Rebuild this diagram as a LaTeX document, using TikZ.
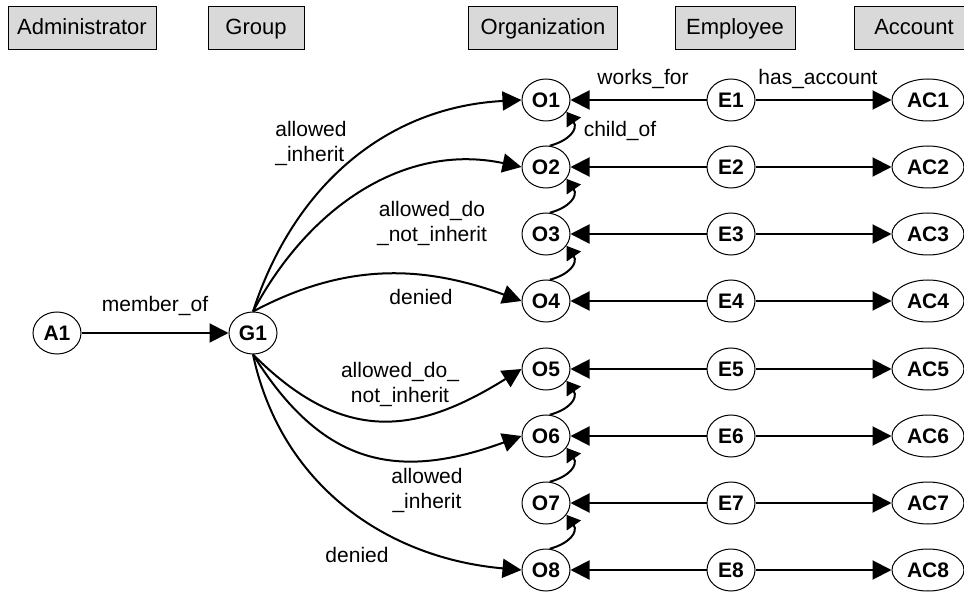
\documentclass[tikz,border=0pt]{standalone}
\usepackage{fontspec}
\setmainfont{Liberation Sans}
\usetikzlibrary{shapes.geometric,arrows.meta}
\definecolor{hdrgray}{HTML}{D9D9D9}
\begin{document}
\begin{tikzpicture}[x=0.5pt,y=-0.5pt,
  hdr/.style={draw, fill=hdrgray, line width=0.5pt, minimum height=21.5pt, inner sep=0pt,
    text height=8pt, text depth=2.3pt, font=\fontsize{11}{13}\selectfont},
  ent/.style={ellipse, draw, line width=0.5pt, minimum width=24pt, minimum height=21pt,
    inner sep=0pt, font=\fontsize{10.5}{12}\selectfont\bfseries},
  acc/.style={ent, minimum width=36pt},
  arr/.style={line width=1pt, -{Triangle[length=9.5pt,width=9.5pt]}},
  childarr/.style={line width=1pt, -{Triangle[length=6.5pt,width=8.5pt]}},
  lbl/.style={font=\fontsize{10.5}{12.5}\selectfont, inner sep=0pt, align=center}]
\useasboundingbox (0,0) rectangle (964,593);

% column headers
\node[hdr, minimum width=74pt] (hAdm) at (82,28.5) {Administrator};
\node[hdr, minimum width=48pt] (hGrp) at (256,28.5) {Group};
\node[hdr, minimum width=74.5pt] (hOrg) at (543,28.5) {Organization};
\node[hdr, minimum width=60pt] (hEmp) at (735,28.5) {Employee};
\node[hdr, minimum width=60pt] (hAcc) at (914,28.5) {Account};

% administrator and group
\node[ent] (A1) at (57,333) {A1};
\node[ent] (G1) at (253,333) {G1};
\draw[arr] (A1) -- (G1) node[lbl, midway, above=8pt] {member\_of};

% organizations, employees, accounts
\foreach \i/\y in {1/100,2/167,3/234,4/301,5/369,6/436,7/503,8/570} {
  \node[ent] (O\i) at (546,\y) {O\i};
  \node[ent] (E\i) at (731,\y) {E\i};
  \node[acc] (AC\i) at (928,\y) {AC\i};
  \draw[arr] (E\i) -- (O\i);
  \draw[arr] (E\i) -- (AC\i);
}
\node[lbl] at (643,79) {works\_for};
\node[lbl] at (818,79) {has\_account};

% organization hierarchy
\foreach \a/\b in {2/1,3/2,4/3,6/5,7/6,8/7}
  \draw[childarr] (O\a.80) to[out=15,in=-55,looseness=1.4] (O\b.-30);
\node[lbl] at (620,131) {child\_of};

% group permissions
\draw[arr] (G1.north) to[out=72,in=183] (O1.west);
\draw[arr] (G1.north) to[out=62,in=168] (O2.west);
\draw[arr] (G1.north) to[out=28,in=160] (O4.west);
\draw[arr] (G1.south) to[out=-45,in=212,looseness=1.2] (O5.west);
\draw[arr] (G1.south) to[out=-58,in=200,looseness=1.2] (O6.west);
\draw[arr] (G1.south) to[out=-78,in=175] (O8.west);

\node[lbl, align=left] at (311,143) {allowed\\\_inherit};
\node[lbl] at (432,223) {allowed\_do\\\_not\_inherit};
\node[lbl] at (421,297) {denied};
\node[lbl] at (400,384) {allowed\_do\_\\not\_inherit};
\node[lbl] at (427,490) {allowed\\\_inherit};
\node[lbl] at (357,555) {denied};
\end{tikzpicture}
\end{document}
